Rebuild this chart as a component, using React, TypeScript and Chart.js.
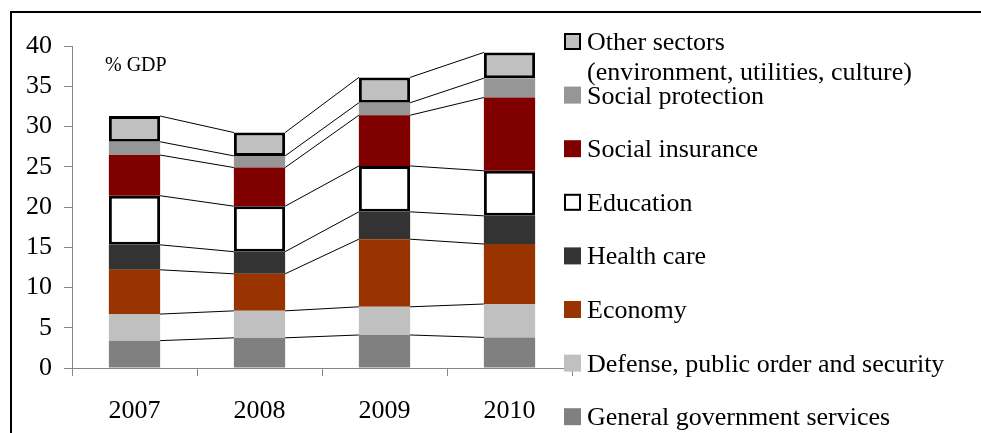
import React, { useEffect, useRef } from "react";
import { Chart, registerables } from "chart.js";

Chart.register(...registerables);

const years = ["2007", "2008", "2009", "2010"];

const generalGov = [3.4, 3.75, 4.1, 3.8];
const defense = [3.3, 3.35, 3.5, 4.15];
const economy = [5.5, 4.6, 8.4, 7.45];
const healthCare = [3.1, 2.75, 3.4, 3.5];
const education = [6.1, 5.65, 5.7, 5.6];
const socialInsurance = [5.05, 4.8, 6.3, 9.1];
const socialProtection = [1.65, 1.45, 1.55, 2.4];
const otherSectors = [3.2, 2.9, 3.15, 3.2];

const seriesNames = [
  "General government services",
  "Defense, public order and security",
  "Economy",
  "Health care",
  "Education",
  "Social insurance",
  "Social protection",
  "Other sectors",
];
const otherSectorsSubtitle = "(environment, utilities, culture)";
const unitLabel = "% GDP";

const SERIF = "'Liberation Serif', 'Times New Roman', serif";

const fills = ["#808080", "#C0C0C0", "#993300", "#333333", "#FFFFFF", "#800000", "#969696", "#C0C0C0"];
const borders = [0, 0, 0, 0, 3, 0, 0, 3];

const seriesLinesPlugin = {
  id: "seriesLines",
  afterDatasetsDraw(chart: any) {
    const ctx = chart.ctx;
    ctx.save();
    ctx.strokeStyle = "#000";
    ctx.lineWidth = 1;
    chart.data.datasets.forEach((_ds: any, di: number) => {
      const meta = chart.getDatasetMeta(di);
      for (let i = 0; i < meta.data.length - 1; i++) {
        const a = meta.data[i];
        const b = meta.data[i + 1];
        ctx.beginPath();
        ctx.moveTo(a.x + a.width / 2, a.y);
        ctx.lineTo(b.x - b.width / 2, b.y);
        ctx.stroke();
      }
    });
    ctx.restore();
  },
};

const legendPlugin = {
  id: "customLegend",
  afterDraw(chart: any) {
    const ctx = chart.ctx;
    ctx.save();
    // unit label
    ctx.font = `20px ${SERIF}`;
    ctx.fillStyle = "#000";
    ctx.textBaseline = "alphabetic";
    ctx.textAlign = "left";
    ctx.fillText(unitLabel, 105, 71);

    ctx.font = `26px ${SERIF}`;
    const n = seriesNames.length;
    for (let k = 0; k < n; k++) {
      const di = n - 1 - k;
      const baseline = 50 + k * 53.6;
      const bx = 564;
      const size = 17;
      const by = baseline - 17;
      ctx.fillStyle = fills[di];
      ctx.fillRect(bx, by, size, size);
      if (borders[di]) {
        ctx.strokeStyle = "#000";
        ctx.lineWidth = 2;
        ctx.strokeRect(bx + 1, by + 1, size - 2, size - 2);
      }
      ctx.fillStyle = "#000";
      ctx.fillText(seriesNames[di], 587, baseline);
      if (di === n - 1) {
        ctx.fillText(otherSectorsSubtitle, 587, baseline + 30);
      }
    }
    ctx.restore();
  },
};

export default function App() {
  const canvasRef = useRef<HTMLCanvasElement | null>(null);

  useEffect(() => {
    document.body.style.margin = "0";
    const canvas = canvasRef.current;
    if (!canvas) return;
    const seriesValues = [
      generalGov,
      defense,
      economy,
      healthCare,
      education,
      socialInsurance,
      socialProtection,
      otherSectors,
    ];
    const chart = new Chart(canvas, {
      type: "bar",
      data: {
        labels: years,
        datasets: seriesValues.map((vals, i) => ({
          label: seriesNames[i],
          data: vals,
          backgroundColor: fills[i],
          borderColor: "#000",
          borderWidth: borders[i],
          borderSkipped: false,
          categoryPercentage: 1,
          barPercentage: 0.41,
        })),
      },
      options: {
        responsive: false,
        animation: false,
        devicePixelRatio: 1,
        layout: { padding: { left: 0, top: 46, right: 409, bottom: 0 } },
        plugins: {
          legend: { display: false },
          tooltip: { enabled: false },
        },
        scales: {
          x: {
            stacked: true,
            grid: {
              display: true,
              drawOnChartArea: false,
              drawTicks: true,
              tickLength: 8,
              color: "#868686",
              offset: true,
            },
            border: { display: true, color: "#868686", width: 1 },
            ticks: {
              color: "#000",
              font: { family: SERIF, size: 26 },
              padding: 20,
              maxRotation: 0,
            },
            afterFit(scale: any) {
              scale.height = 65;
            },
          },
          y: {
            stacked: true,
            min: 0,
            max: 40,
            grid: {
              display: true,
              drawOnChartArea: false,
              drawTicks: true,
              tickLength: 8,
              color: "#868686",
            },
            border: { display: true, color: "#868686", width: 1 },
            ticks: {
              stepSize: 5,
              color: "#000",
              font: { family: SERIF, size: 26 },
              padding: 12,
            },
            afterFit(scale: any) {
              scale.width = 72;
            },
          },
        },
      },
      plugins: [seriesLinesPlugin, legendPlugin],
    });
    return () => chart.destroy();
  }, []);

  return (
    <div style={{ position: "relative", width: 981, height: 433, overflow: "hidden", background: "#fff" }}>
      <div
        style={{
          position: "absolute",
          left: 10,
          top: 11,
          width: 990,
          height: 440,
          borderTop: "2px solid #000",
          borderLeft: "2px solid #000",
        }}
      />
      <canvas
        ref={canvasRef}
        width={981}
        height={433}
        style={{ position: "absolute", left: 0, top: 0 }}
      />
    </div>
  );
}
